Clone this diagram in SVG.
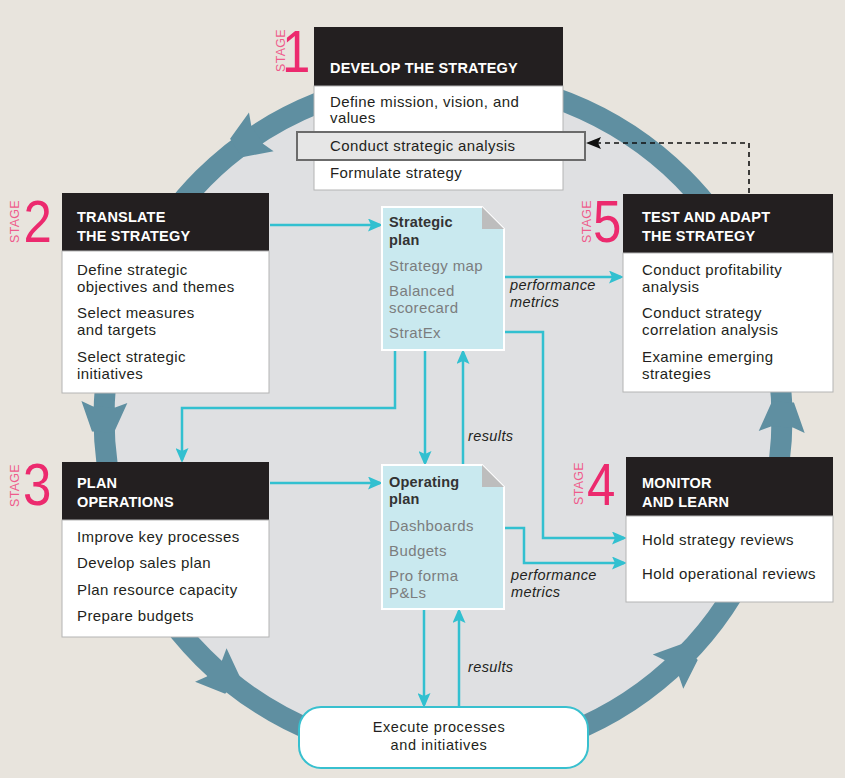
<svg xmlns="http://www.w3.org/2000/svg" width="845" height="778" viewBox="0 0 845 778">
<style>
.hd{font-family:'Liberation Sans',Arial,sans-serif;font-weight:bold;font-size:14.5px;fill:#fff;letter-spacing:0.2px}
.bd{font-family:'Liberation Sans',Arial,sans-serif;font-size:15px;fill:#231f20;letter-spacing:0.4px}
.dt{font-family:'Liberation Sans',Arial,sans-serif;font-weight:bold;font-size:14.5px;fill:#333;letter-spacing:0.2px}
.dg{font-family:'Liberation Sans',Arial,sans-serif;font-size:15px;fill:#7b7d7e;letter-spacing:0.4px}
.it{font-family:'Liberation Sans',Arial,sans-serif;font-style:italic;font-size:14.5px;fill:#231f20;letter-spacing:0.4px}
.ex{font-family:'Liberation Sans',Arial,sans-serif;font-size:14.5px;fill:#231f20;letter-spacing:0.6px}
.stg{font-family:'Liberation Sans',Arial,sans-serif;font-size:12.5px;fill:#ef5b8c;letter-spacing:0.3px}
.num{font-family:'Liberation Sans',Arial,sans-serif;font-size:60px;fill:#ec2a6e}
.head{fill:#231f20}
.body{fill:#fff;stroke:#b4b4b4;stroke-width:1}
.doc{fill:#c9e9ef;stroke:#fff;stroke-width:2}
.fold{fill:#bdbdbd}
.cn{fill:none;stroke:#32c0d0;stroke-width:2.5;marker-end:url(#ah)}
.ring-ah{fill:#5f8fa1}
</style>
<defs>
<marker id="ah" markerUnits="userSpaceOnUse" markerWidth="15" markerHeight="13" refX="12" refY="6.5" orient="auto">
<path d="M0,0 L15,6.5 L0,13 L3,6.5 z" fill="#32c0d0"/>
</marker>
<marker id="ahk" markerUnits="userSpaceOnUse" markerWidth="15" markerHeight="12" refX="12" refY="6" orient="auto">
<path d="M0,0 L15,6 L0,12 L3,6 z" fill="#111"/>
</marker>
<polygon id="rah" points="5,-11 0,-23 30,-11 30,11 0,23 5,11"/>
</defs>
<rect x="0" y="0" width="845" height="778" fill="#e8e4dd"/>
<g id="cycle">
<circle cx="443" cy="418" r="339" fill="#dfe0e2" stroke="#5f8fa1" stroke-width="21"/>
<use href="#rah" class="ring-ah" transform="translate(261.3,131.9) rotate(147.6)"/>
<use href="#rah" class="ring-ah" transform="translate(104.4,402) rotate(92.7)"/>
<use href="#rah" class="ring-ah" transform="translate(210.8,665.1) rotate(43.2)"/>
<use href="#rah" class="ring-ah" transform="translate(668,671.6) rotate(-41.6)"/>
<use href="#rah" class="ring-ah" transform="translate(781.7,432) rotate(-87.6)"/>
</g>
<g id="connectors">
<path class="cn" d="M270,225 H380"/>
<path class="cn" d="M504,277 H621"/>
<path class="cn" d="M504,332 H543 V538 H624"/>
<path class="cn" d="M504,528 H524 V563 H624"/>
<path class="cn" d="M395,350 V408 H182 V460"/>
<path class="cn" d="M425,350 V463"/>
<path class="cn" d="M463,465 V352"/>
<path class="cn" d="M270,483 H380"/>
<path class="cn" d="M424,609 V705"/>
<path class="cn" d="M459,707 V611"/>
<path d="M749,193 V143 H589" fill="none" stroke="#111" stroke-width="1.6" stroke-dasharray="5,4" marker-end="url(#ahk)"/>
<text class="it" x="510" y="290">performance</text>
<text class="it" x="510" y="307">metrics</text>
<text class="it" x="511" y="580">performance</text>
<text class="it" x="511" y="597">metrics</text>
<text class="it" x="468" y="441">results</text>
<text class="it" x="468" y="672">results</text>
</g>
<g id="stage1">
<rect class="head" x="314" y="27" width="249" height="59"/>
<rect class="body" x="314" y="86" width="249" height="104"/>
<text class="hd" x="330" y="73">DEVELOP THE STRATEGY</text>
<text class="bd" x="330" y="107">Define mission, vision, and</text>
<text class="bd" x="330" y="123">values</text>
<rect x="297" y="132" width="288" height="28" fill="#e6e6e6" stroke="#6b6b6b" stroke-width="2"/>
<text class="bd" x="330" y="151">Conduct strategic analysis</text>
<text class="bd" x="330" y="178">Formulate strategy</text>
<text class="stg" transform="translate(285,72) rotate(-90)">STAGE</text>
<text class="num" transform="translate(282,72) scale(0.85,1)">1</text>
</g>
<g id="stage2">
<rect class="head" x="62" y="193" width="207" height="58"/>
<rect class="body" x="62" y="251" width="207" height="142"/>
<text class="hd" x="77" y="222">TRANSLATE</text>
<text class="hd" x="77" y="241">THE STRATEGY</text>
<text class="bd" x="77" y="275">Define strategic</text>
<text class="bd" x="77" y="292">objectives and themes</text>
<text class="bd" x="77" y="318">Select measures</text>
<text class="bd" x="77" y="335">and targets</text>
<text class="bd" x="77" y="362">Select strategic</text>
<text class="bd" x="77" y="379">initiatives</text>
<text class="stg" transform="translate(18.5,243) rotate(-90)">STAGE</text>
<text class="num" transform="translate(23.5,242) scale(0.85,1)">2</text>
</g>
<g id="stage5">
<rect class="head" x="623" y="194" width="210" height="59"/>
<rect class="body" x="623" y="253" width="210" height="139"/>
<text class="hd" x="642" y="222">TEST AND ADAPT</text>
<text class="hd" x="642" y="241">THE STRATEGY</text>
<text class="bd" x="642" y="275">Conduct profitability</text>
<text class="bd" x="642" y="292">analysis</text>
<text class="bd" x="642" y="318">Conduct strategy</text>
<text class="bd" x="642" y="335">correlation analysis</text>
<text class="bd" x="642" y="362">Examine emerging</text>
<text class="bd" x="642" y="379">strategies</text>
<text class="stg" transform="translate(591,243) rotate(-90)">STAGE</text>
<text class="num" transform="translate(593,242) scale(0.85,1)">5</text>
</g>
<g id="stage3">
<rect class="head" x="62" y="462" width="207" height="58"/>
<rect class="body" x="62" y="520" width="207" height="117"/>
<text class="hd" x="77" y="488">PLAN</text>
<text class="hd" x="77" y="507">OPERATIONS</text>
<text class="bd" x="77" y="542">Improve key processes</text>
<text class="bd" x="77" y="568">Develop sales plan</text>
<text class="bd" x="77" y="595">Plan resource capacity</text>
<text class="bd" x="77" y="621">Prepare budgets</text>
<text class="stg" transform="translate(18.5,507) rotate(-90)">STAGE</text>
<text class="num" transform="translate(23,505) scale(0.85,1)">3</text>
</g>
<g id="stage4">
<rect class="head" x="626" y="457" width="207" height="59"/>
<rect class="body" x="626" y="516" width="207" height="86"/>
<text class="hd" x="642" y="488">MONITOR</text>
<text class="hd" x="642" y="507">AND LEARN</text>
<text class="bd" x="642" y="545">Hold strategy reviews</text>
<text class="bd" x="642" y="579">Hold operational reviews</text>
<text class="stg" transform="translate(583,505) rotate(-90)">STAGE</text>
<text class="num" transform="translate(587,505) scale(0.85,1)">4</text>
</g>
<g id="strategic-plan">
<path class="doc" d="M382,207 H482 L504,229 V350 H382 Z"/>
<path class="fold" d="M482,207 L504,229 H482 Z"/>
<text class="dt" x="389" y="227">Strategic</text>
<text class="dt" x="389" y="245">plan</text>
<text class="dg" x="389" y="271">Strategy map</text>
<text class="dg" x="389" y="296">Balanced</text>
<text class="dg" x="389" y="313">scorecard</text>
<text class="dg" x="389" y="338">StratEx</text>
</g>
<g id="operating-plan">
<path class="doc" d="M382,465 H482 L504,487 V609 H382 Z"/>
<path class="fold" d="M482,465 L504,487 H482 Z"/>
<text class="dt" x="389" y="487">Operating</text>
<text class="dt" x="389" y="504">plan</text>
<text class="dg" x="389" y="531">Dashboards</text>
<text class="dg" x="389" y="556">Budgets</text>
<text class="dg" x="389" y="581">Pro forma</text>
<text class="dg" x="389" y="598">P&amp;Ls</text>
</g>
<g id="execute">
<rect x="299" y="707" width="289" height="61" rx="22" fill="#fff" stroke="#38c0cf" stroke-width="2"/>
<text class="ex" x="439" y="732" text-anchor="middle">Execute processes</text>
<text class="ex" x="439" y="750" text-anchor="middle">and initiatives</text>
</g>
</svg>
